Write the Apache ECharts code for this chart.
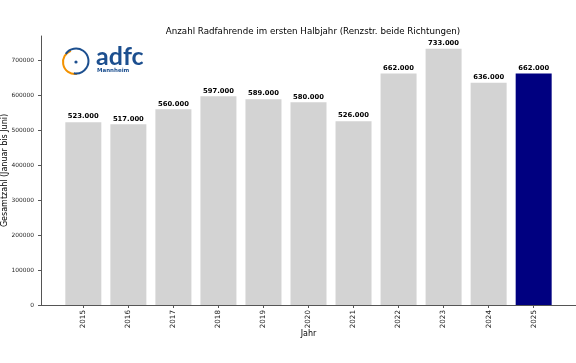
<!DOCTYPE html>
<html>
<head>
<meta charset="utf-8">
<script src="https://cdn.jsdelivr.net/npm/echarts@6/dist/echarts.min.js"></script>
<style>html,body{margin:0;padding:0;background:#fff}#c{width:576px;height:363px}</style>
</head>
<body>
<div id="c"></div>
<script>
const years = ['2015','2016','2017','2018','2019','2020','2021','2022','2023','2024','2025'];
const values = [523000, 517000, 560000, 597000, 589000, 580000, 526000, 662000, 733000, 636000, 662000];
const yTicks = [0, 100000, 200000, 300000, 400000, 500000, 600000, 700000];
const highlightYear = '2025';

const FONT = 'DejaVu Sans';
const AX = '#555555';
const chart = echarts.init(document.getElementById('c'), null, {renderer: 'canvas'});
const idx = years.map((_, i) => i);
const barData = values.map((v, i) => ({
  value: [i, v],
  itemStyle: {color: years[i] === highlightYear ? '#000080' : '#d3d3d3'}
}));
const yMax = Math.max(...values) * 1.05;

chart.setOption({
  animation: false,
  title: {
    text: 'Anzahl Radfahrende im ersten Halbjahr (Renzstr. beide Richtungen)',
    left: 308, top: 22, textAlign: 'center',
    textStyle: {fontFamily: FONT, fontSize: 8.7, fontWeight: 'normal', color: '#000'}
  },
  grid: {left: 41, right: 0, top: 36, bottom: 58, containLabel: false, outerBoundsMode: 'none'},
  xAxis: {
    type: 'value', min: -0.94, max: 10.94,
    name: 'Jahr', nameLocation: 'middle', nameGap: 25, nameMoveOverlap: false,
    nameTextStyle: {fontFamily: FONT, fontSize: 8, color: '#000'},
    axisLine: {show: true, onZero: false, lineStyle: {color: AX, width: 1}},
    axisTick: {show: true, length: 3, lineStyle: {color: AX}, customValues: idx},
    axisLabel: {customValues: idx, rotate: 90, fontFamily: FONT, fontSize: 7.2, color: '#222', margin: 5,
      formatter: v => years[Math.round(v)]},
    splitLine: {show: false}
  },
  yAxis: {
    type: 'value', min: 0, max: yMax,
    name: 'Gesamtzahl (Januar bis Juni)', nameLocation: 'middle', nameGap: 32.5, nameMoveOverlap: false,
    nameTextStyle: {fontFamily: FONT, fontSize: 8, color: '#000'},
    axisLine: {show: true, onZero: false, lineStyle: {color: AX, width: 1}},
    axisTick: {show: true, length: 3, lineStyle: {color: AX}, customValues: yTicks},
    axisLabel: {customValues: yTicks, fontFamily: FONT, fontSize: 5.9, color: '#222', margin: 7,
      formatter: v => String(v)},
    splitLine: {show: false}
  },
  series: [{
    type: 'bar', data: barData, barWidth: 36,
    label: {show: true, position: 'top', distance: 2, fontFamily: FONT, fontSize: 6.8, fontWeight: 'bold', color: '#000',
      formatter: p => (p.value[1] / 1000).toFixed(0) + '.000'}
  }],
  graphic: [
    {type: 'arc', shape: {cx: 75, cy: 62, r: 12, startAngle: 80 * Math.PI / 180, endAngle: 250 * Math.PI / 180, clockwise: true},
      style: {stroke: '#f39200', lineWidth: 2, fill: null}, z: 10},
    {type: 'arc', shape: {cx: 76, cy: 61, r: 12.5, startAngle: 215 * Math.PI / 180, endAngle: 100 * Math.PI / 180, clockwise: true},
      style: {stroke: '#1c4f8f', lineWidth: 2, fill: null}, z: 10},
    {type: 'circle', shape: {cx: 76, cy: 62, r: 1.6}, style: {fill: '#1c4f8f'}, z: 10},
    {type: 'text', left: 96, top: 44, z: 10,
      style: {text: 'adfc', fill: '#1c4f8f', font: 'bold 25px Lato'}},
    {type: 'text', left: 97, top: 68, z: 10,
      style: {text: 'Mannheim', fill: '#1c4f8f', font: 'bold 5.5px "DejaVu Sans"'}}
  ]
});
</script>
</body>
</html>
